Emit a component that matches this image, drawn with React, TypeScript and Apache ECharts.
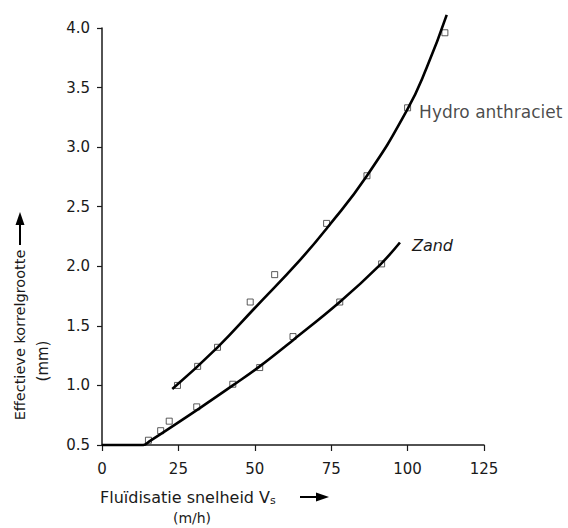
import React, { useEffect, useRef } from "react";
import * as echarts from "echarts";

// Axis ticks
const xTicks = [0, 25, 50, 75, 100, 125];
const yTicks = [0.5, 1.0, 1.5, 2.0, 2.5, 3.0, 3.5, 4.0];

// Hydro anthraciet: curve traced along the drawn line, and measured points
const hydroCurveX = [23, 37.8, 50, 64.7, 73.9, 86.7, 99.8, 106.3, 112.8];
const hydroCurveY = [0.97, 1.32, 1.65, 2.05, 2.33, 2.76, 3.31, 3.67, 4.11];
const hydroPointX = [24.7, 31.3, 37.8, 48.5, 56.5, 73.5, 86.7, 100, 112.2];
const hydroPointY = [1.0, 1.16, 1.32, 1.7, 1.93, 2.36, 2.76, 3.33, 3.96];

// Zand: curve traced along the drawn line, and measured points
const zandCurveX = [0, 13.5, 15.5, 32, 42.8, 51.6, 62.5, 77.8, 90.9, 97.5];
const zandCurveY = [0.5, 0.5, 0.53, 0.81, 1.0, 1.16, 1.38, 1.7, 2.01, 2.2];
const zandPointX = [15.2, 19.2, 22, 31, 42.8, 51.6, 62.5, 77.8, 91.5];
const zandPointY = [0.54, 0.62, 0.7, 0.82, 1.01, 1.15, 1.41, 1.7, 2.02];

const hydroLabel = "Hydro anthraciet";
const zandLabel = "Zand";
const hydroLabelIndex = 7;

const FONT = "DejaVu Sans";
const INK = "#1a1a1a";

const pairs = (xs: number[], ys: number[]) => xs.map((x, i) => [x, ys[i]]);

export default function App() {
  const ref = useRef<HTMLDivElement>(null);
  useEffect(() => {
    if (!ref.current) return;
    const chart = echarts.init(ref.current, null, { renderer: "svg" });
    const markerStyle = {
      color: "rgba(255,255,255,0)",
      borderColor: "#333",
      borderWidth: 1,
    };
    const hydroPts = pairs(hydroPointX, hydroPointY).map((p, i) =>
      i === hydroLabelIndex
        ? {
            value: p,
            label: {
              show: true,
              position: "right",
              distance: 8,
              offset: [0, 4],
              formatter: hydroLabel,
              fontFamily: FONT,
              fontSize: 17,
              color: INK,
            },
          }
        : { value: p }
    );
    chart.setOption({
      animation: false,
      backgroundColor: "#ffffff",
      grid: { left: 102, top: 28, width: 382, height: 417, containLabel: false },
      xAxis: {
        type: "value",
        min: xTicks[0],
        max: xTicks[xTicks.length - 1],
        interval: 25,
        axisLine: { show: true, onZero: false, lineStyle: { color: INK, width: 1.5 } },
        axisTick: { show: true, length: 6, lineStyle: { color: INK, width: 1.2 } },
        axisLabel: { margin: 16, fontFamily: FONT, fontSize: 15, color: INK },
        splitLine: { show: false },
      },
      yAxis: {
        type: "value",
        min: yTicks[0],
        max: yTicks[yTicks.length - 1],
        interval: 0.5,
        axisLine: { show: true, onZero: false, lineStyle: { color: INK, width: 1.5 } },
        axisTick: { show: true, length: 5, lineStyle: { color: INK, width: 1.2 } },
        axisLabel: {
          margin: 12,
          fontFamily: FONT,
          fontSize: 15,
          color: INK,
          formatter: (v: number) => v.toFixed(1),
        },
        splitLine: { show: false },
      },
      series: [
        {
          type: "line",
          data: pairs(hydroCurveX, hydroCurveY),
          smooth: 0.5,
          showSymbol: false,
          clip: false,
          lineStyle: { color: "#000", width: 2.6 },
        },
        {
          type: "line",
          data: pairs(zandCurveX, zandCurveY),
          smooth: 0.4,
          showSymbol: false,
          clip: false,
          lineStyle: { color: "#000", width: 2.6 },
          endLabel: {
            show: true,
            formatter: zandLabel,
            distance: 12,
            offset: [0, 3],
            fontFamily: FONT,
            fontStyle: "italic",
            fontSize: 16,
            color: INK,
          },
        },
        {
          type: "scatter",
          data: hydroPts,
          symbol: "rect",
          symbolSize: 6,
          itemStyle: markerStyle,
          clip: false,
        },
        {
          type: "scatter",
          data: pairs(zandPointX, zandPointY),
          symbol: "rect",
          symbolSize: 6,
          itemStyle: markerStyle,
          clip: false,
        },
      ],
      graphic: [
        {
          type: "text",
          x: 20,
          y: 335,
          rotation: Math.PI / 2,
          style: {
            text: "Effectieve korrelgrootte",
            font: `14.5px "${FONT}"`,
            fill: INK,
            textAlign: "center",
            textVerticalAlign: "middle",
          },
        },
        {
          type: "text",
          x: 43,
          y: 361,
          rotation: Math.PI / 2,
          style: {
            text: "(mm)",
            font: `15px "${FONT}"`,
            fill: INK,
            textAlign: "center",
            textVerticalAlign: "middle",
          },
        },
        {
          type: "line",
          shape: { x1: 20, y1: 245, x2: 20, y2: 222 },
          style: { stroke: "#000", lineWidth: 2 },
        },
        {
          type: "polygon",
          shape: { points: [[15.5, 225], [20, 212], [24.5, 225]] },
          style: { fill: "#000" },
        },
        {
          type: "text",
          x: 100,
          y: 497,
          style: {
            text: "{a|Fluïdisatie snelheid V}{s|s}",
            rich: {
              a: { fontFamily: FONT, fontSize: 16, fill: INK },
              s: { fontFamily: FONT, fontSize: 11, fill: INK, padding: [6, 0, 0, 0] },
            },
            textVerticalAlign: "middle",
          },
        },
        {
          type: "text",
          x: 192,
          y: 518,
          style: {
            text: "(m/h)",
            font: `14px "${FONT}"`,
            fill: INK,
            textAlign: "center",
            textVerticalAlign: "middle",
          },
        },
        {
          type: "line",
          shape: { x1: 300, y1: 497, x2: 318, y2: 497 },
          style: { stroke: "#000", lineWidth: 2 },
        },
        {
          type: "polygon",
          shape: { points: [[316, 492.5], [329, 497], [316, 501.5]] },
          style: { fill: "#000" },
        },
      ],
    });
    return () => chart.dispose();
  }, []);
  return (
    <div
      ref={ref}
      style={{ position: "fixed", left: 0, top: 0, width: 568, height: 528, background: "#fff" }}
    />
  );
}
